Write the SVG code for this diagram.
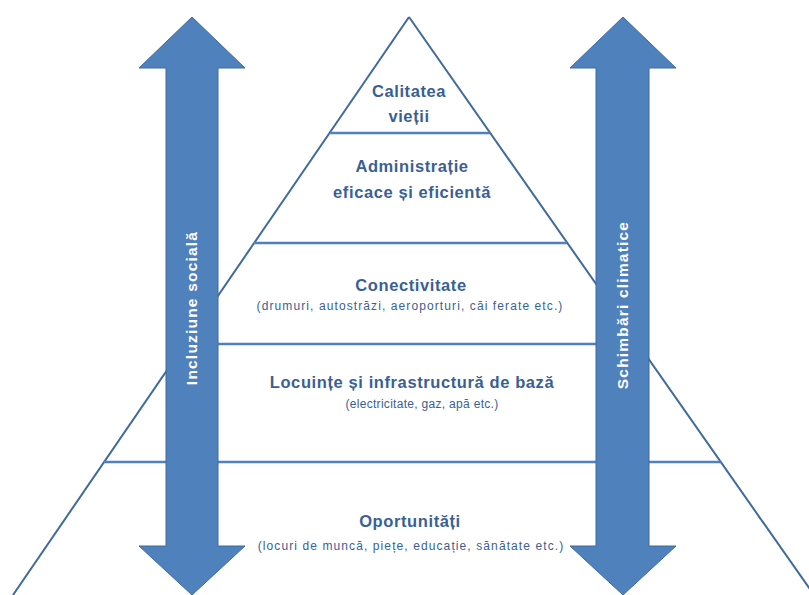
<svg xmlns="http://www.w3.org/2000/svg" width="809" height="595" viewBox="0 0 809 595">
<style>
.side{stroke:#40699C;stroke-width:2;fill:none}
.lvl{stroke:#4F81BD;stroke-width:2.5;fill:none}
.arrow{fill:#4F81BD;stroke:#3F6A9C;stroke-width:1}
.t{font-family:"Liberation Sans",Arial,sans-serif;fill:#3A5F94;text-anchor:middle}
.b{font-weight:bold;font-size:16.5px;letter-spacing:0.6px}
.s{font-size:12px;letter-spacing:1.1px}
.v{font-family:"Liberation Sans",Arial,sans-serif;fill:#ffffff;font-weight:bold;font-size:15.5px;letter-spacing:1.2px;text-anchor:middle}
</style>
<rect width="809" height="595" fill="#ffffff"/>
<g id="connectors">
<line class="side" x1="409" y1="17" x2="13" y2="595"/>
<line class="side" x1="409" y1="17" x2="814" y2="595"/>
<line class="lvl" x1="330" y1="133" x2="490" y2="133"/>
<line class="lvl" x1="254" y1="243" x2="567" y2="243"/>
<line class="lvl" x1="184" y1="344" x2="637" y2="344"/>
<line class="lvl" x1="104" y1="462" x2="721" y2="462"/>
</g>
<g id="arrow-left">
<polygon class="arrow" points="192,17 245,68 218,68 218,546 245,546 192,595 139,546 166,546 166,68 139,68"/>
<text class="v" transform="translate(197,308) rotate(-90)">Incluziune socială</text>
</g>
<g id="arrow-right">
<polygon class="arrow" points="623,17 676,68 649,68 649,546 676,546 623,595 570,546 596,546 596,68 570,68"/>
<text class="v" transform="translate(628,305) rotate(-90)">Schimbări climatice</text>
</g>
<g id="level-1">
<text class="t b" x="409" y="97">Calitatea</text>
<text class="t b" x="409" y="122">vieții</text>
</g>
<g id="level-2">
<text class="t b" x="412" y="172">Administrație</text>
<text class="t b" x="412" y="198">eficace și eficientă</text>
</g>
<g id="level-3">
<text class="t b" x="411" y="291">Conectivitate</text>
<text class="t s" x="410" y="310">(drumuri, autostrăzi, aeroporturi, căi ferate etc.)</text>
</g>
<g id="level-4">
<text class="t b" x="412" y="388">Locuințe și infrastructură de bază</text>
<text class="t s" x="422" y="408" style="letter-spacing:0.3px">(electricitate, gaz, apă etc.)</text>
</g>
<g id="level-5">
<text class="t b" x="410" y="527">Oportunități</text>
<text class="t s" x="411" y="550">(locuri de muncă, piețe, educație, sănătate etc.)</text>
</g>
</svg>
